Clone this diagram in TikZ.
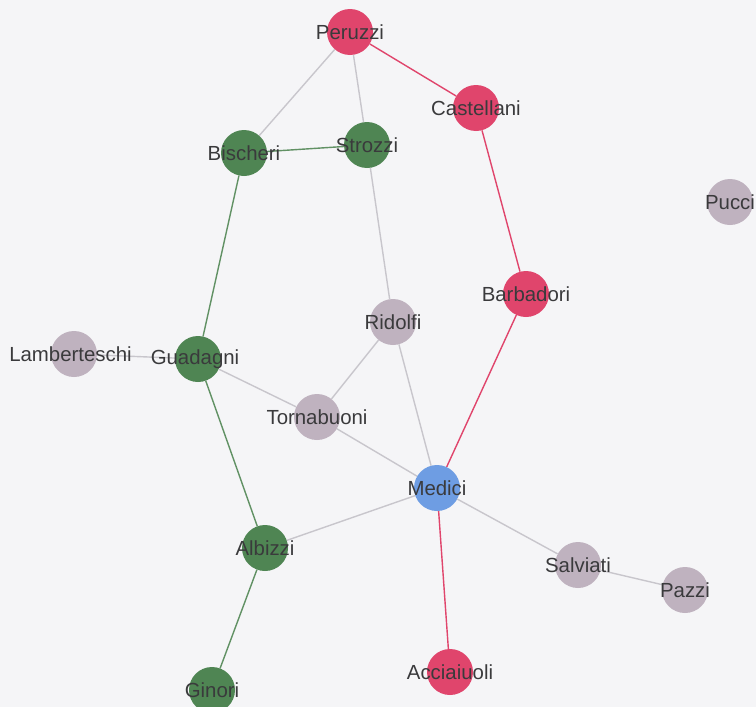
\documentclass[tikz,border=0pt]{standalone}
\usepackage{fontspec}
\setmainfont{Liberation Sans}
\usetikzlibrary{backgrounds}
\definecolor{bgc}{HTML}{F5F5F7}
\definecolor{redc}{HTML}{E0456C}
\definecolor{greenc}{HTML}{4F8553}
\definecolor{grayc}{HTML}{BFB2BF}
\definecolor{bluec}{HTML}{6E9DE3}
\definecolor{edgegray}{HTML}{C8C6CC}
\definecolor{txt}{HTML}{3A3A3C}
\tikzset{
  lbl/.style={text=txt, font=\fontsize{20.4}{24}\selectfont, inner sep=0pt},
  fam/.style={circle, minimum size=46pt, inner sep=0pt, draw=none, fill=#1},
  ge/.style={draw=edgegray, line width=1.4pt},
  re/.style={draw=redc, line width=1.4pt},
  gre/.style={draw=greenc!90, line width=1.4pt},
}
\newcommand{\fnode}[4]{\node[fam=#4, label={[lbl]center:#2}] (#1) at (#3) {};}
\begin{document}
\begin{tikzpicture}[x=1pt,y=-1pt]
\useasboundingbox (0,0) rectangle (756,707);
\fnode{Peruzzi}{Peruzzi}{350,32}{redc}
\fnode{Castellani}{Castellani}{476,108}{redc}
\fnode{Bischeri}{Bischeri}{244,153}{greenc}
\fnode{Strozzi}{Strozzi}{367,145}{greenc}
\fnode{Pucci}{Pucci}{730,202}{grayc}
\fnode{Barbadori}{Barbadori}{526,294}{redc}
\fnode{Ridolfi}{Ridolfi}{393,322}{grayc}
\fnode{Lamberteschi}{\hspace*{-7pt}Lamberteschi}{74,354}{grayc}
\fnode{Guadagni}{\hspace*{-6pt}Guadagni}{198,359}{greenc}
\fnode{Tornabuoni}{Tornabuoni}{317,417}{grayc}
\fnode{Medici}{Medici}{437,488}{bluec}
\fnode{Albizzi}{Albizzi}{265,548}{greenc}
\fnode{Salviati}{Salviati}{578,565}{grayc}
\fnode{Pazzi}{Pazzi}{685,590}{grayc}
\fnode{Ginori}{Ginori}{212,690}{greenc}
\fnode{Acciaiuoli}{Acciaiuoli}{450,672}{redc}
\begin{scope}[on background layer]
\fill[bgc] (0,0) rectangle (756,707);
\draw[ge] (Peruzzi) -- (Bischeri);
\draw[ge] (Peruzzi) -- (Strozzi);
\draw[re] (Peruzzi) -- (Castellani);
\draw[gre] (Bischeri) -- (Strozzi);
\draw[re] (Castellani) -- (Barbadori);
\draw[ge] (Strozzi) -- (Ridolfi);
\draw[gre] (Bischeri) -- (Guadagni);
\draw[ge] (Guadagni) -- (Lamberteschi);
\draw[ge] (Guadagni) -- (Tornabuoni);
\draw[gre] (Guadagni) -- (Albizzi);
\draw[ge] (Ridolfi) -- (Tornabuoni);
\draw[ge] (Ridolfi) -- (Medici);
\draw[ge] (Tornabuoni) -- (Medici);
\draw[re] (Barbadori) -- (Medici);
\draw[ge] (Medici) -- (Albizzi);
\draw[ge] (Medici) -- (Salviati);
\draw[re] (Medici) -- (Acciaiuoli);
\draw[ge] (Salviati) -- (Pazzi);
\draw[gre] (Albizzi) -- (Ginori);
\end{scope}
\end{tikzpicture}
\end{document}
